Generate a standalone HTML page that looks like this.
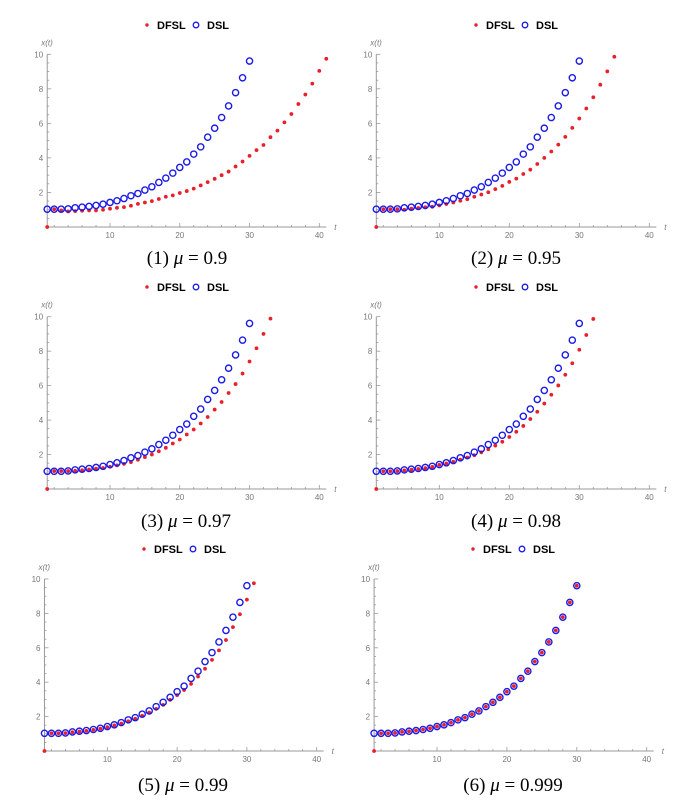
<!DOCTYPE html>
<html><head><meta charset="utf-8">
<style>
html,body{margin:0;padding:0;background:#fff;}
svg{display:block;}
.tk{font-family:"Liberation Sans",sans-serif;font-size:8px;fill:#777;}
.lg{font-family:"Liberation Sans",sans-serif;font-size:11px;font-weight:bold;fill:#000;}
.cap{font-family:"Liberation Serif",serif;font-size:19px;fill:#000;}
</style></head>
<body>
<svg id="fig" width="699" height="811" viewBox="0 0 699 811"></svg>
<script>
const tickLabelsX = [10, 20, 30, 40];
const tickLabelsY = [2, 4, 6, 8, 10];
const captionNums = ["(1)", "(2)", "(3)", "(4)", "(5)", "(6)"];
const captionMu = ["0.9", "0.95", "0.97", "0.98", "0.99", "0.999"];
const dslValues = [1.03,1.03,1.03,1.05,1.11,1.15,1.19,1.25,1.32,1.42,1.52,1.65,1.81,1.94,2.14,2.33,2.58,2.83,3.12,3.45,3.77,4.22,4.64,5.20,5.72,6.34,7.01,7.78,8.64,9.61];
const dfsl1 = [0,1.03,0.96,0.90,0.92,0.94,0.96,0.96,1.00,1.06,1.11,1.15,1.23,1.34,1.42,1.50,1.62,1.75,1.83,1.97,2.08,2.22,2.41,2.60,2.79,3.00,3.21,3.50,3.79,4.12,4.45,4.75,5.20,5.58,6.06,6.54,7.12,7.67,8.30,9.04,9.74];
const dfsl2 = [0,1.03,1.03,1.03,1.00,1.06,1.10,1.14,1.17,1.25,1.33,1.42,1.52,1.61,1.75,1.88,2.01,2.19,2.38,2.61,2.80,3.07,3.32,3.65,4.00,4.37,4.77,5.22,5.74,6.28,6.86,7.51,8.24,9.01,9.86];
const dfsl3 = [0,1.04,1.04,1.04,1.06,1.09,1.13,1.18,1.22,1.29,1.37,1.46,1.56,1.70,1.85,2.00,2.19,2.39,2.64,2.87,3.16,3.45,3.80,4.18,4.61,5.05,5.57,6.09,6.70,7.40,8.17,9.00,9.89];
const dfsl4 = [0,1.03,1.03,1.04,1.08,1.12,1.16,1.21,1.28,1.40,1.48,1.58,1.70,1.83,1.96,2.13,2.31,2.52,2.74,3.02,3.32,3.66,4.06,4.48,4.96,5.47,6.01,6.63,7.30,8.08,8.94,9.87];
const dfsl5 = [0,1.03,1.03,1.04,1.09,1.13,1.17,1.23,1.30,1.39,1.49,1.60,1.73,1.87,2.05,2.24,2.45,2.68,2.97,3.25,3.55,3.90,4.33,4.78,5.30,5.85,6.45,7.20,7.95,8.80,9.75];
const dfsl6 = [0,1.03,1.03,1.05,1.11,1.15,1.19,1.25,1.32,1.42,1.52,1.65,1.81,1.94,2.14,2.33,2.58,2.83,3.12,3.45,3.77,4.22,4.64,5.20,5.72,6.34,7.01,7.78,8.64,9.61];
const dfslSeries = [dfsl1, dfsl2, dfsl3, dfsl4, dfsl5, dfsl6];

const NS = "http://www.w3.org/2000/svg";
const svg = document.getElementById("fig");
function mk(tag, attrs, parent) {
  const e = document.createElementNS(NS, tag);
  for (const k in attrs) e.setAttribute(k, attrs[k]);
  (parent || svg).appendChild(e);
  return e;
}
const panels = [
  {x10:110, x40:319.3, y0:227, y10:54.3, leg:25, capY:264, capX:187, legX:147},
  {x10:439.3, x40:649.3, y0:227, y10:54.3, leg:25, capY:264, capX:516, legX:476},
  {x10:110, x40:319.3, y0:489, y10:316.7, leg:287, capY:527, capX:186, legX:147},
  {x10:439.3, x40:649.3, y0:489, y10:316.7, leg:287, capY:527, capX:516, legX:476},
  {x10:107.3, x40:316.7, y0:751, y10:579, leg:549, capY:791, capX:183, legX:144},
  {x10:437, x40:646.7, y0:751, y10:579, leg:549, capY:791, capX:513, legX:473}
];
panels.forEach((p, i) => {
  const g = mk("g", {});
  
  
  const sx = t => p.x10 + (t - 10) * (p.x40 - p.x10) / 30;
  const sy = v => p.y0 + v * (p.y10 - p.y0) / 10;
  const ax = sx(1), xEnd = sx(41);
  const xa = mk("line", {x1:ax, y1:p.y0, x2:xEnd, y2:p.y0, stroke:"#999", "stroke-width":1}, g);
  
  
  const ya = mk("line", {x1:ax, y1:p.y0, x2:ax, y2:sy(10), stroke:"#999", "stroke-width":1}, g);
  
  
  for (let t = 2; t <= 40; t += 2) {
    const major = t % 10 === 0;
    mk("line", {x1:sx(t), y1:p.y0, x2:sx(t), y2:p.y0 - (major ? 4 : 2), stroke:"#999", "stroke-width":0.8}, g);
  }
  for (let v = 0.5; v <= 10; v += 0.5) {
    const major = v % 2 === 0;
    mk("line", {x1:ax, y1:sy(v), x2:ax + (major ? 4 : 2), y2:sy(v), stroke:"#999", "stroke-width":0.8}, g);
  }
  tickLabelsX.forEach(t => {
    const tx = mk("text", {x:sx(t), y:p.y0 + 11, "text-anchor":"middle", class:"tk"}, g);
    tx.textContent = t;
    
    
  });
  tickLabelsY.forEach(v => {
    const ty = mk("text", {x:ax - 4, y:sy(v) + 3, "text-anchor":"end", class:"tk"}, g);
    ty.textContent = v;
    
    
  });
  const xt = mk("text", {x:xEnd + 8, y:p.y0 + 3, class:"tk", "font-style":"italic"}, g);
  xt.textContent = "t";
  
  
  const yt = mk("text", {x:ax - 6, y:sy(10) - 9, class:"tk", "font-style":"italic"}, g);
  yt.textContent = "x(t)";
  
  
  const dfsl = dfslSeries[i];
  dfsl.forEach((v, k) => {
    const c = mk("circle", {cx:sx(k + 1), cy:sy(v), r:1.9, fill:"#e8202a"}, g);
    
    
  });
  dslValues.forEach((v, k) => {
    const c = mk("circle", {cx:sx(k + 1), cy:sy(v), r:3.1, fill:"none", stroke:"#1a1ae6", "stroke-width":1.4}, g);
    
    
  });
  const lg = mk("g", {}, g);
  
  
  mk("circle", {cx:p.legX, cy:p.leg, r:1.7, fill:"#e8202a"}, lg);
  const l1 = mk("text", {x:p.legX + 10, y:p.leg + 4, class:"lg"}, lg);
  l1.textContent = "DFSL";
  
  
  mk("circle", {cx:p.legX + 49, cy:p.leg, r:2.8, fill:"none", stroke:"#1a1ae6", "stroke-width":1.3}, lg);
  const l2 = mk("text", {x:p.legX + 60, y:p.leg + 4, class:"lg"}, lg);
  l2.textContent = "DSL";
  
  
  const cap = mk("text", {x:p.capX, y:p.capY, "text-anchor":"middle", class:"cap"}, g);
  
  
  const s1 = mk("tspan", {}, cap); s1.textContent = captionNums[i] + " ";
  const s2 = mk("tspan", {"font-style":"italic"}, cap); s2.textContent = "μ";
  const s3 = mk("tspan", {}, cap); s3.textContent = " = " + captionMu[i];
});
</script>
</body></html>
